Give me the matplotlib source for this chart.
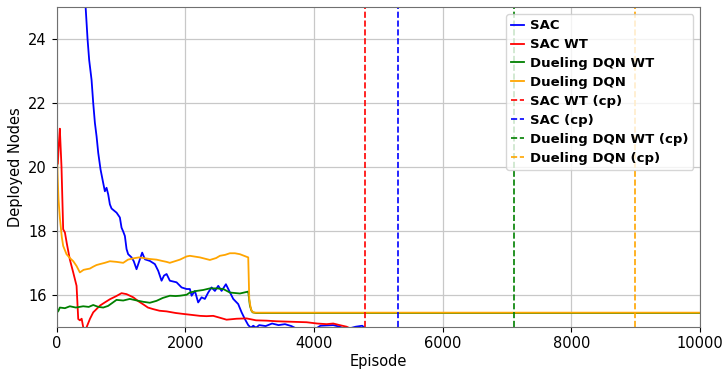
import matplotlib
matplotlib.use("Agg")
import matplotlib.pyplot as plt

# ── Veriler ───────────────────────────────────────────────────────────────────
sac_ep = [440, 482, 507, 544, 570, 596, 622, 648, 684, 725, 751, 777, 803, 829,
          855, 933, 984, 1010, 1036, 1062, 1088, 1113, 1166, 1200, 1243, 1295,
          1331, 1373, 1450, 1528, 1580, 1632, 1670, 1710, 1761, 1865, 1943,
          2021, 2072, 2099, 2150, 2201, 2254, 2305, 2357, 2409, 2461, 2513,
          2565, 2632, 2684, 2746, 2823, 2876, 2927, 2979, 3020, 3057, 3100,
          3150, 3250, 3350, 3450, 3550, 3650, 3720, 4000, 4100, 4300, 4400,
          4500, 4650, 4750, 4800]
sac_val = [25.4, 24.0, 23.35, 22.73, 22.0, 21.38, 20.96, 20.44, 19.92, 19.5,
           19.24, 19.35, 19.14, 18.83, 18.7, 18.57, 18.42, 18.1, 17.98, 17.84,
           17.43, 17.27, 17.17, 17.05, 16.8, 17.11, 17.32, 17.11, 17.06, 16.96,
           16.75, 16.44, 16.6, 16.65, 16.44, 16.39, 16.23, 16.18, 16.18, 15.97,
           16.12, 15.76, 15.92, 15.87, 16.07, 16.23, 16.12, 16.28, 16.12,
           16.33, 16.12, 15.87, 15.71, 15.45, 15.24, 15.05, 14.97, 15.03,
           14.97, 15.05, 15.02, 15.1, 15.05, 15.08, 15.02, 14.95, 14.9, 15.03,
           15.05, 15.0, 14.92, 15.0, 15.03, 14.95]

sac_wt_ep = [0, 20, 35, 51, 77, 103, 130, 160, 207, 259, 311, 337, 363, 390,
             415, 440, 466, 520, 570, 620, 674, 750, 829, 930, 1010, 1088,
             1192, 1270, 1347, 1420, 1503, 1600, 1710, 1850, 1969, 2100, 2228,
             2330, 2435, 2540, 2642, 2800, 2953, 3100, 3264, 3420, 3575, 3730,
             3886, 4050, 4197, 4300, 4400, 4508, 4560]
sac_wt_val = [20.6, 20.1, 20.7, 21.2, 20.0, 18.05, 17.95, 17.6, 17.1, 16.7,
              16.28, 15.24, 15.2, 15.25, 14.98, 14.85, 14.98, 15.25, 15.45,
              15.55, 15.66, 15.76, 15.86, 15.96, 16.05, 16.02, 15.92, 15.8,
              15.7, 15.6, 15.55, 15.5, 15.48, 15.43, 15.4, 15.37, 15.34, 15.33,
              15.34, 15.28, 15.22, 15.25, 15.26, 15.2, 15.19, 15.17, 15.16,
              15.15, 15.14, 15.1, 15.08, 15.1, 15.05, 15.0, 14.95]

dqn_wt_ep = [0, 9, 30, 51, 130, 207, 300, 414, 500, 570, 650, 725, 800, 870,
             932, 1036, 1139, 1250, 1347, 1450, 1554, 1650, 1761, 1850, 1917,
             2021, 2072, 2176, 2280, 2383, 2490, 2590, 2694, 2850, 2979, 3005,
             3030, 3047, 3100, 10000]
dqn_wt_val = [17.0, 15.45, 15.5, 15.6, 15.58, 15.64, 15.6, 15.64, 15.62, 15.68,
              15.62, 15.6, 15.65, 15.75, 15.84, 15.82, 15.87, 15.82, 15.78,
              15.75, 15.81, 15.9, 15.97, 15.96, 15.97, 16.0, 16.07, 16.12,
              16.15, 16.2, 16.2, 16.18, 16.07, 16.04, 16.1, 15.66, 15.5, 15.45,
              15.43, 15.43]

dqn_ep = [0, 5, 15, 30, 52, 82, 103, 155, 207, 260, 311, 362, 420, 466, 518,
          570, 620, 673, 750, 829, 932, 1036, 1110, 1191, 1280, 1347, 1450,
          1554, 1640, 1710, 1760, 1839, 1917, 2021, 2072, 2228, 2383, 2480,
          2539, 2620, 2694, 2772, 2850, 2940, 2979, 2995, 3016, 3031, 3057,
          3083, 10000]
dqn_val = [23.3, 20.8, 19.8, 19.0, 18.4, 17.8, 17.53, 17.27, 17.15, 17.05, 16.9,
           16.7, 16.78, 16.8, 16.82, 16.88, 16.93, 16.96, 17.0, 17.05, 17.03,
           17.0, 17.1, 17.14, 17.17, 17.15, 17.12, 17.1, 17.06, 17.03, 17.0,
           17.05, 17.1, 17.2, 17.22, 17.17, 17.09, 17.15, 17.22, 17.25, 17.3,
           17.3, 17.27, 17.2, 17.17, 15.87, 15.6, 15.5, 15.45, 15.44, 15.44]

# Yakınsama noktaları (cp)
cp_labels = ["SAC WT (cp)", "SAC (cp)", "Dueling DQN WT (cp)", "Dueling DQN (cp)"]
cp_episodes = [4800, 5300, 7110, 8985]
cp_colors = ["red", "blue", "green", "orange"]

# ── Çizim ─────────────────────────────────────────────────────────────────────
fig = plt.figure(figsize=(7.25, 3.69), dpi=100)
ax = fig.add_axes([0.078, 0.1146, 0.8875, 0.8656])

lw = 1.3
ax.plot(sac_ep, sac_val, color="blue", lw=lw, label="SAC")
ax.plot(sac_wt_ep, sac_wt_val, color="red", lw=lw, label="SAC WT")
ax.plot(dqn_wt_ep, dqn_wt_val, color="green", lw=lw, label="Dueling DQN WT")
ax.plot(dqn_ep, dqn_val, color="orange", lw=lw, label="Dueling DQN")

for lbl, ep, c in zip(cp_labels, cp_episodes, cp_colors):
    ax.axvline(x=ep, color=c, linestyle="--", lw=1.2, label=lbl)

ax.set_xlim(0, 10000)
ax.set_ylim(15, 25)
ax.set_yticks([16, 18, 20, 22, 24])
ax.set_xticks([0, 2000, 4000, 6000, 8000, 10000])
ax.tick_params(labelsize=10.5)
ax.set_xlabel("Episode", fontsize=10.5, labelpad=2)
ax.set_ylabel("Deployed Nodes", fontsize=10.5)
ax.grid(True, color="#c8c8c8", lw=0.9)
for s in ax.spines.values():
    s.set_color("#707070")

ax.legend(loc="upper right", prop={"weight": "bold", "size": 9.5},
          handlelength=1.0, handletextpad=0.4, labelspacing=0.45)

fig.savefig("out.png", dpi=100)
plt.close(fig)
